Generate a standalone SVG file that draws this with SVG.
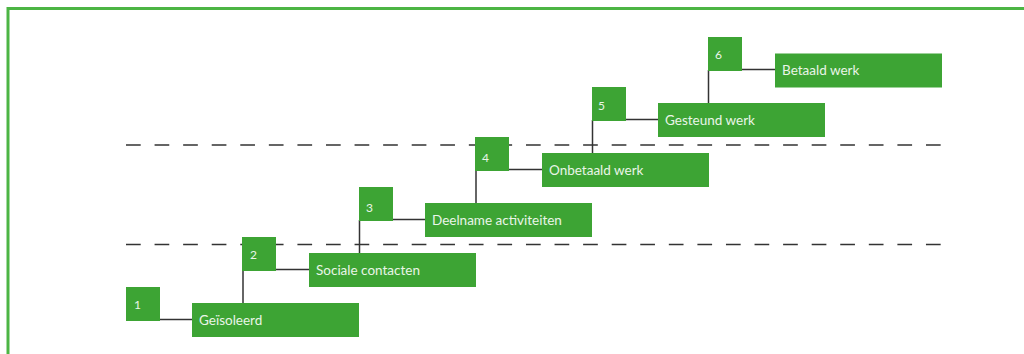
<svg xmlns="http://www.w3.org/2000/svg" width="1024" height="354" viewBox="0 0 1024 354">
<style>
.box{fill:#3da434}
.num{font-family:Lato,"Liberation Sans",sans-serif;font-size:12px;fill:#eaf5e8}
.lbl{font-family:Lato,"Liberation Sans",sans-serif;font-size:13.5px;fill:#eaf5e8}
.con{stroke:#333;stroke-width:1.5;fill:none}
.dash{stroke:#333;stroke-width:1.3;stroke-dasharray:14.7 13.87;fill:none}
</style>
<rect x="0" y="0" width="1024" height="354" fill="#fff"/>
<rect x="8" y="8.5" width="1030" height="360" fill="none" stroke="#4cb544" stroke-width="3"/>
<g id="dashes">
<line class="dash" x1="126" y1="145" x2="941" y2="145"/>
<line class="dash" x1="126" y1="244.5" x2="941" y2="244.5"/>
</g>
<g id="connectors">
<polyline class="con" points="160,319.5 192,319.5"/>
<polyline class="con" points="243,270 243,303"/>
<polyline class="con" points="276,269.5 309,269.5"/>
<polyline class="con" points="359.5,220 359.5,253"/>
<polyline class="con" points="392,219.5 425,219.5"/>
<polyline class="con" points="476,170 476,203"/>
<polyline class="con" points="509,169.5 542,169.5"/>
<polyline class="con" points="592.5,120 592.5,153"/>
<polyline class="con" points="625,119.5 658,119.5"/>
<polyline class="con" points="708.5,70 708.5,103"/>
<polyline class="con" points="741,69.5 775,69.5"/>
</g>
<g id="n1">
<rect class="box" x="126" y="287" width="34" height="34"/>
<text class="num" x="134" y="309">1</text>
<rect class="box" x="192" y="303" width="167" height="34"/>
<text class="lbl" x="199" y="325">Geïsoleerd</text>
</g>
<g id="n2">
<rect class="box" x="242" y="237" width="34" height="34"/>
<text class="num" x="250" y="259">2</text>
<rect class="box" x="309" y="253" width="167" height="34"/>
<text class="lbl" x="316" y="275">Sociale contacten</text>
</g>
<g id="n3">
<rect class="box" x="359" y="187" width="34" height="34"/>
<text class="num" x="366" y="212">3</text>
<rect class="box" x="425" y="203" width="167" height="34"/>
<text class="lbl" x="432" y="225">Deelname activiteiten</text>
</g>
<g id="n4">
<rect class="box" x="475" y="137" width="34" height="34"/>
<text class="num" x="482" y="162">4</text>
<rect class="box" x="542" y="153" width="167" height="34"/>
<text class="lbl" x="549" y="175">Onbetaald werk</text>
</g>
<g id="n5">
<rect class="box" x="592" y="87" width="34" height="34"/>
<text class="num" x="598" y="110">5</text>
<rect class="box" x="658" y="103" width="167" height="34"/>
<text class="lbl" x="665" y="125">Gesteund werk</text>
</g>
<g id="n6">
<rect class="box" x="708" y="37" width="34" height="34"/>
<text class="num" x="715" y="59">6</text>
<rect class="box" x="775" y="53.5" width="167" height="34"/>
<text class="lbl" x="782" y="75">Betaald werk</text>
</g>
</svg>
